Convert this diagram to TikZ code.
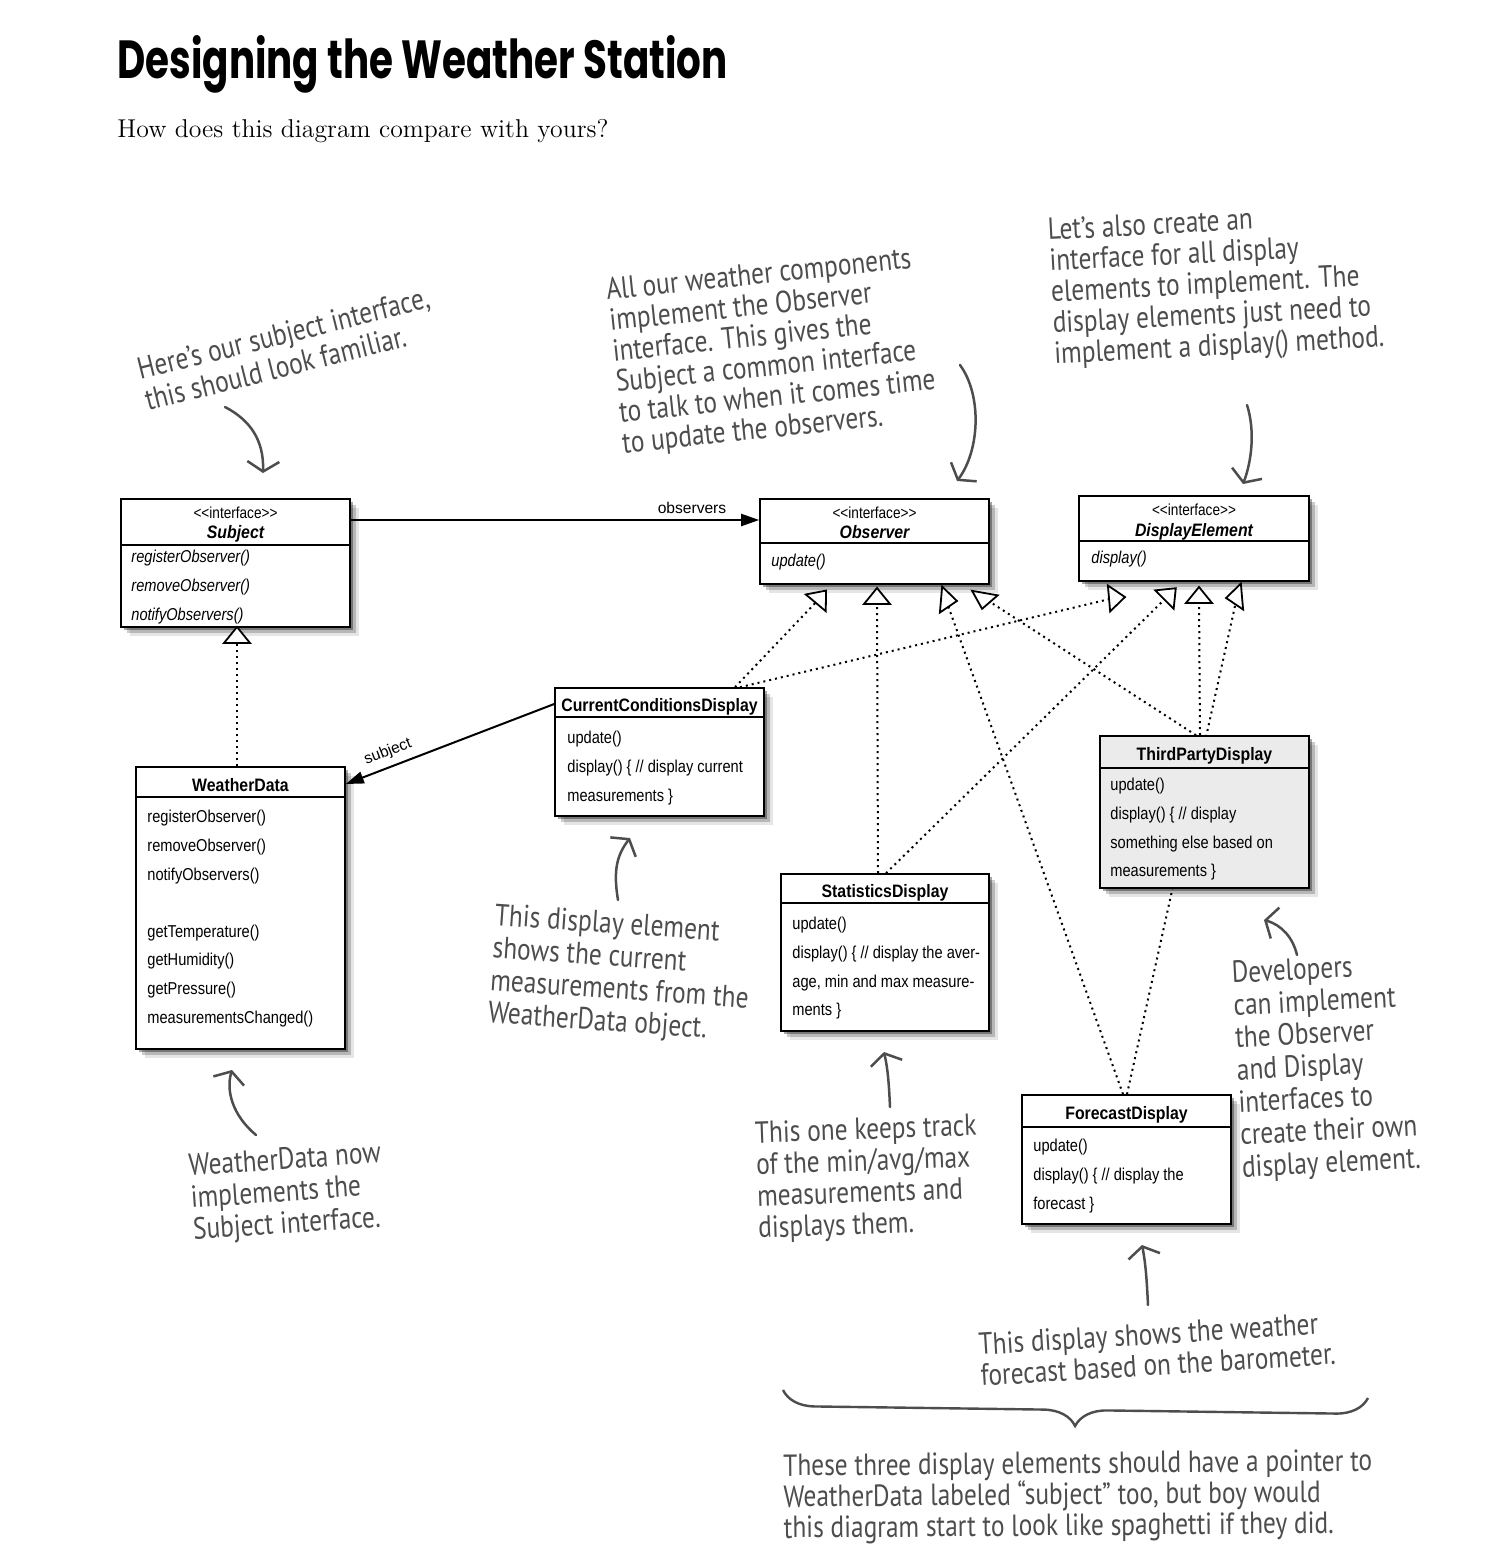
\documentclass[tikz,border=0pt]{standalone}
\usepackage{fontspec}
\usepackage{graphicx}
\usetikzlibrary{arrows.meta,shadows,fit,backgrounds,decorations.pathreplacing}
\newfontfamily\boxfont[FakeStretch=0.85]{Liberation Sans}
\newfontfamily\boxbold[FakeStretch=0.88]{Liberation Sans}
\newfontfamily\handfont[FakeStretch=0.83]{PT Sans}
\newfontfamily\titlefont{Poppins}
\newfontfamily\lblfont{Liberation Sans}
\definecolor{hand}{HTML}{4D4D4D}
\definecolor{tpgray}{HTML}{EBEBEB}
\newcommand\hl[1]{\hbox{#1}}
\newcommand\note[6]{\node[hw, rotate=#4] (#1) at (#2,#3) {\vtop{\baselineskip=#5\relax #6}};}
\newcommand\opentri[2]{\draw[tri, shift={(#1)}, rotate=#2] (11,0) -- (-5,13) -- (-5,-13) -- cycle;}
\begin{document}
\begin{tikzpicture}[x=0.5pt,y=-0.5pt,
  sh/.style={drop shadow={shadow xshift=1.5pt,shadow yshift=-1.5pt,opacity=.35,fill=black},
             drop shadow={shadow xshift=3pt,shadow yshift=-3pt,opacity=.2,fill=black},
             drop shadow={shadow xshift=4.5pt,shadow yshift=-4.5pt,opacity=.1,fill=black}},
  cls/.style={draw, line width=0.8pt, fill=white, inner sep=0pt, sh},
  sepl/.style={line width=0.7pt},
  mem/.style={font={\boxfont\fontsize{8.6}{14.3}\selectfont}, align=left, anchor=north west, inner sep=0pt},
  memi/.style={mem, font={\boxfont\itshape\fontsize{8.6}{14.3}\selectfont}},
  ttl/.style={font={\boxbold\bfseries\fontsize{9}{10}\selectfont}, anchor=base, inner sep=0pt},
  ittl/.style={font={\boxbold\bfseries\itshape\fontsize{9}{10}\selectfont}, anchor=base, inner sep=0pt},
  stereo/.style={font={\boxfont\fontsize{8}{9}\selectfont}, anchor=base, inner sep=0pt},
  dep/.style={dotted, line width=1pt},
  assoc/.style={line width=1pt, -{Triangle[length=9pt,width=6pt]}},
  tri/.style={draw, fill=white, line width=0.9pt, line join=miter},
  lbl/.style={font={\lblfont\fontsize{7.8}{9}\selectfont}, inner sep=0pt},
  hw/.style={font={\handfont\fontsize{15.3}{16}\selectfont}, text=hand, anchor=base west, inner sep=0pt},
  harr/.style={draw=hand, line width=1.25pt, line cap=round, line join=round, -{Straight Barb[length=5pt,width=16pt]}}
]
\useasboundingbox (0,0) rectangle (1511,1559);

% title
\node[anchor=base west, inner sep=0pt] (title) at (117,78) {\resizebox{305pt}{21.5pt}{\titlefont\bfseries Designing the Weather Station}};
\node[anchor=base west, inner sep=0pt] (subtitle) at (117,137) {\resizebox{245.5pt}{!}{\fontsize{13}{15}\selectfont How does this diagram compare with yours?}};

% class boxes
\node[cls, fit={(121,499)(350,627)}] (subj) {};
\node[stereo] (subj-s) at (235.5,518) {<<interface>>};
\node[ittl] (subj-t) at (235.5,538) {Subject};
\draw[sepl] (subj.west |- 0,545) -- (subj.east |- 0,545);
\node[memi] (subj-m) at (131,550) {registerObserver()\\removeObserver()\\notifyObservers()};

\node[cls, fit={(760,499)(989,584)}] (obs) {};
\node[stereo] (obs-s) at (874.5,518) {<<interface>>};
\node[ittl] (obs-t) at (874.5,538) {Observer};
\draw[sepl] (obs.west |- 0,543) -- (obs.east |- 0,543);
\node[memi] (obs-m) at (771,554) {update()};

\node[cls, fit={(1079,496)(1309,581)}] (de) {};
\node[stereo] (de-s) at (1194,515) {<<interface>>};
\node[ittl] (de-t) at (1194,536) {DisplayElement};
\draw[sepl] (de.west |- 0,541) -- (de.east |- 0,541);
\node[memi] (de-m) at (1091,551) {display()};

\node[cls, fit={(555,688)(764,816)}] (ccd) {};
\node[ttl] (ccd-t) at (659.5,711) {CurrentConditionsDisplay};
\draw[sepl] (ccd.west |- 0,717) -- (ccd.east |- 0,717);
\node[mem] (ccd-m) at (567,731) {update()\\display() \{ // display current\\measurements \}};

\node[cls, fit={(136,767)(345,1049)}] (wd) {};
\node[ttl] (wd-t) at (240.5,791) {WeatherData};
\draw[sepl] (wd.west |- 0,797) -- (wd.east |- 0,797);
\node[mem] (wd-m) at (147,810) {registerObserver()\\removeObserver()\\notifyObservers()\\[14.3pt]getTemperature()\\getHumidity()\\getPressure()\\measurementsChanged()};

\node[cls, fill=tpgray, fit={(1100,736)(1309,888)}] (tp) {};
\node[ttl] (tp-t) at (1204.5,760) {ThirdPartyDisplay};
\draw[sepl] (tp.west |- 0,768) -- (tp.east |- 0,768);
\node[mem] (tp-m) at (1110,778) {update()\\display() \{ // display\\something else based on\\measurements \}};

\node[cls, fit={(781,874)(989,1031)}] (stat) {};
\node[ttl] (stat-t) at (885,897) {StatisticsDisplay};
\draw[sepl] (stat.west |- 0,903) -- (stat.east |- 0,903);
\node[mem] (stat-m) at (792,917) {update()\\display() \{ // display the aver-\\age, min and max measure-\\ments \}};

\node[cls, fit={(1022,1095)(1231,1224)}] (fc) {};
\node[ttl] (fc-t) at (1126.5,1119) {ForecastDisplay};
\draw[sepl] (fc.west |- 0,1127) -- (fc.east |- 0,1127);
\node[mem] (fc-m) at (1033,1139) {update()\\display() \{ // display the\\forecast \}};

% triangle positions
\coordinate (tS) at (237,638);
\coordinate (tO1) at (819,599);
\coordinate (tO2) at (877,599);
\coordinate (tO3) at (946,600);
\coordinate (tO4) at (984,598);
\coordinate (tD1) at (1114,598);
\coordinate (tD2) at (1168,596);
\coordinate (tD3) at (1199,598);
\coordinate (tD4) at (1237,597);

\begin{pgfonlayer}{background}
\fill[white] (0,0) rectangle (1511,1559);
\draw[dep] (wd.north -| 237,0) -- (tS);
\draw[dep] (ccd.north -| 735,0) -- (tO1);
\draw[dep] (ccd.north -| 740,0) -- (tD1);
\draw[dep] (stat.north -| 878,0) -- (tO2);
\draw[dep] (stat.north -| 886,0) -- (tD2);
\draw[dep] (fc.north -| 1123,0) -- (tO3);
\draw[dep] (fc.north -| 1127,0) -- (tD4);
\draw[dep] (tp.north -| 1196,0) -- (tO4);
\draw[dep] (tp.north -| 1200,0) -- (tD3);
\end{pgfonlayer}

\opentri{tS}{90}
\opentri{tO1}{50}
\opentri{tO2}{90}
\opentri{tO3}{-5}
\opentri{tO4}{-100}
\opentri{tD1}{5}
\opentri{tD2}{45}
\opentri{tD3}{90}
\opentri{tD4}{185}

% associations
\draw[assoc] (subj.east |- 0,520) -- (obs.west |- 0,520);
\node[lbl, anchor=base] (lobs) at (692,513) {observers};
\draw[assoc] (ccd.west |- 0,704) -- (wd.east |- 0,784);
\node[lbl, rotate=21] (lsubj) at (388,752) {subject};

% handwritten notes
\note{n1}{140}{380}{14}{16pt}{\hl{Here’s our subject interface,}\hl{this should look familiar.}}
\note{n2}{607}{300}{6}{15.4pt}{\hl{All our weather components}\hl{implement the Observer}\hl{interface. This gives the}\hl{Subject a common interface}\hl{to talk to when it comes time}\hl{to update the observers.}}
\note{n3}{1048}{240}{3}{15.5pt}{\hl{Let’s also create an}\hl{interface for all display}\hl{elements to implement. The}\hl{display elements just need to}\hl{implement a display() method.}}
\note{n4}{494}{925}{-4}{16.3pt}{\hl{This display element}\hl{shows the current}\hl{measurements from the}\hl{WeatherData object.}}
\note{n5}{189}{1176}{4}{16pt}{\hl{WeatherData now}\hl{implements the}\hl{Subject interface.}}
\note{n6}{755}{1143}{2}{15.8pt}{\hl{This one keeps track}\hl{of the min/avg/max}\hl{measurements and}\hl{displays them.}}
\note{n7}{1232}{983}{3}{16.2pt}{\hl{Developers}\hl{can implement}\hl{the Observer}\hl{and Display}\hl{interfaces to}\hl{create their own}\hl{display element.}}
\note{n8}{979}{1355}{3.5}{15.5pt}{\hl{This display shows the weather}\hl{forecast based on the barometer.}}
\note{n9}{783}{1476}{0.5}{15.5pt}{\hl{These three display elements should have a pointer to}\hl{WeatherData labeled “subject” too, but boy would}\hl{this diagram start to look like spaghetti if they did.}}

% note arrows
\coordinate (a1s) at (225,407); \coordinate (a1e) at (263,473);
\draw[harr] (a1s) .. controls (250,420) and (264,440) .. (a1e);
\coordinate (a2s) at (960,365); \coordinate (a2e) at (957,481);
\draw[harr] (a2s) .. controls (982,395) and (980,450) .. (a2e);
\coordinate (a3s) at (1247,405); \coordinate (a3e) at (1243,484);
\draw[harr] (a3s) .. controls (1255,430) and (1252,460) .. (a3e);
\coordinate (a4s) at (618,900); \coordinate (a4e) at (630,838);
\draw[harr] (a4s) .. controls (613,870) and (617,855) .. (a4e);
\coordinate (a5s) at (256,1135); \coordinate (a5e) at (232,1070);
\draw[harr] (a5s) .. controls (232,1115) and (226,1090) .. (a5e);
\coordinate (a6s) at (890,1107); \coordinate (a6e) at (884,1052);
\draw[harr] (a6s) .. controls (889,1085) and (888,1070) .. (a6e);
\coordinate (a7s) at (1297,955); \coordinate (a7e) at (1264,920);
\draw[harr] (a7s) .. controls (1293,938) and (1282,925) .. (a7e);
\coordinate (a8s) at (1148,1305); \coordinate (a8e) at (1142,1245);
\draw[harr] (a8s) .. controls (1147,1285) and (1146,1265) .. (a8e);

% brace
\coordinate (brR) at (1368,1398); \coordinate (brL) at (783,1390);
\draw[hand, line width=1.2pt, decorate, decoration={brace, amplitude=16pt}] (brR) -- (brL);
\end{tikzpicture}
\end{document}
